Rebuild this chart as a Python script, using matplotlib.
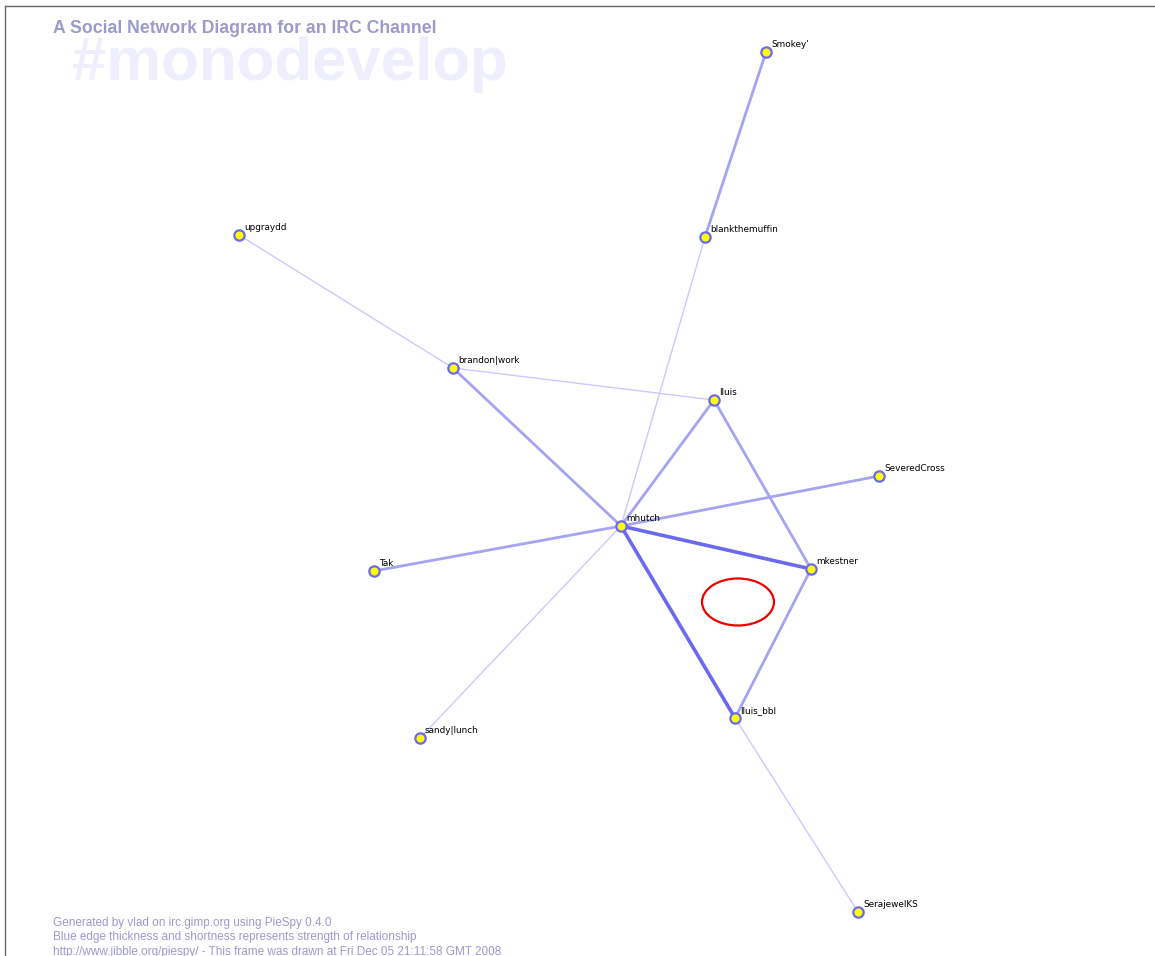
import matplotlib.pyplot as plt
from matplotlib.patches import Ellipse

# node positions (pixel space of the original PieSpy frame)
nodes = ["Smokey'", "blankthemuffin", "upgraydd", "brandon|work", "lluis",
         "SeveredCross", "mhutch", "mkestner", "Tak", "lluis_bbl",
         "sandy|lunch", "SerajewelKS"]
node_x = [766, 705, 239, 453, 714, 879, 621, 811, 374, 735, 420, 858]
node_y = [52, 237, 235, 368, 400, 476, 526, 569, 571, 718, 738, 912]

# edges and their strength (0 = weak, 1 = medium, 2 = strong)
edge_a = ["Smokey'", "blankthemuffin", "upgraydd", "brandon|work", "brandon|work",
          "lluis", "lluis", "SeveredCross", "mhutch", "mhutch", "mhutch",
          "mhutch", "mkestner", "lluis_bbl"]
edge_b = ["blankthemuffin", "mhutch", "brandon|work", "lluis", "mhutch",
          "mhutch", "mkestner", "mhutch", "mkestner", "lluis_bbl", "Tak",
          "sandy|lunch", "lluis_bbl", "SerajewelKS"]
edge_w = [1, 0, 0, 0, 1, 1, 1, 1, 2, 2, 1, 0, 1, 0]

footer = ["Generated by vlad on irc.gimp.org using PieSpy 0.4.0",
          "Blue edge thickness and shortness represents strength of relationship",
          "http://www.jibble.org/piespy/ - This frame was drawn at Fri Dec 05 21:11:58 GMT 2008"]

W, H = 1155, 956
fig = plt.figure(figsize=(W / 100, H / 100), dpi=100)
ax = fig.add_axes([5 / W, 0, (W - 5) / W, (H - 6) / H])
ax.set_xlim(5, W)
ax.set_ylim(H, 6)
ax.set_xticks([])
ax.set_yticks([])
for s in ["right", "bottom"]:
    ax.spines[s].set_visible(False)
for s in ["top", "left"]:
    ax.spines[s].set_color("#666666")
    ax.spines[s].set_linewidth(1)

pos = {n: (x, y) for n, x, y in zip(nodes, node_x, node_y)}

styles = {0: ("#cacaff", 1.0), 1: ("#a4a4f2", 2.0), 2: ("#6a6aee", 2.6)}

ax.text(72, 80, "#monodevelop", fontsize=44.5, fontweight="bold",
        family="Liberation Sans", color="#eeeefc", va="baseline", zorder=0)
ax.text(53, 33, "A Social Network Diagram for an IRC Channel", fontsize=12.7,
        fontweight="bold", family="Liberation Sans", color="#9b9bcc",
        va="baseline", zorder=1)

for a, b, w in zip(edge_a, edge_b, edge_w):
    c, lw = styles[w]
    ax.plot([pos[a][0], pos[b][0]], [pos[a][1], pos[b][1]], color=c, lw=lw,
            solid_capstyle="round", zorder=2)

ax.scatter(node_x, node_y, s=55, facecolor="#ffff00", edgecolor="#6a6aee",
           linewidths=1.6, zorder=3)

for n, x, y in zip(nodes, node_x, node_y):
    ax.text(x + 5, y - 5, n, fontsize=6.4, family="DejaVu Sans",
            color="black", va="baseline", ha="left", zorder=4)

ax.add_patch(Ellipse((738, 602), 72, 47, fill=False, edgecolor="#ee0000",
                     lw=1.6, zorder=5))

for i, line in enumerate(footer):
    ax.text(53, 926 + i * 14.5, line, fontsize=8.45, family="Liberation Sans",
            color="#9b9bcc", va="baseline", zorder=1)

fig.savefig("out.png", dpi=100)
